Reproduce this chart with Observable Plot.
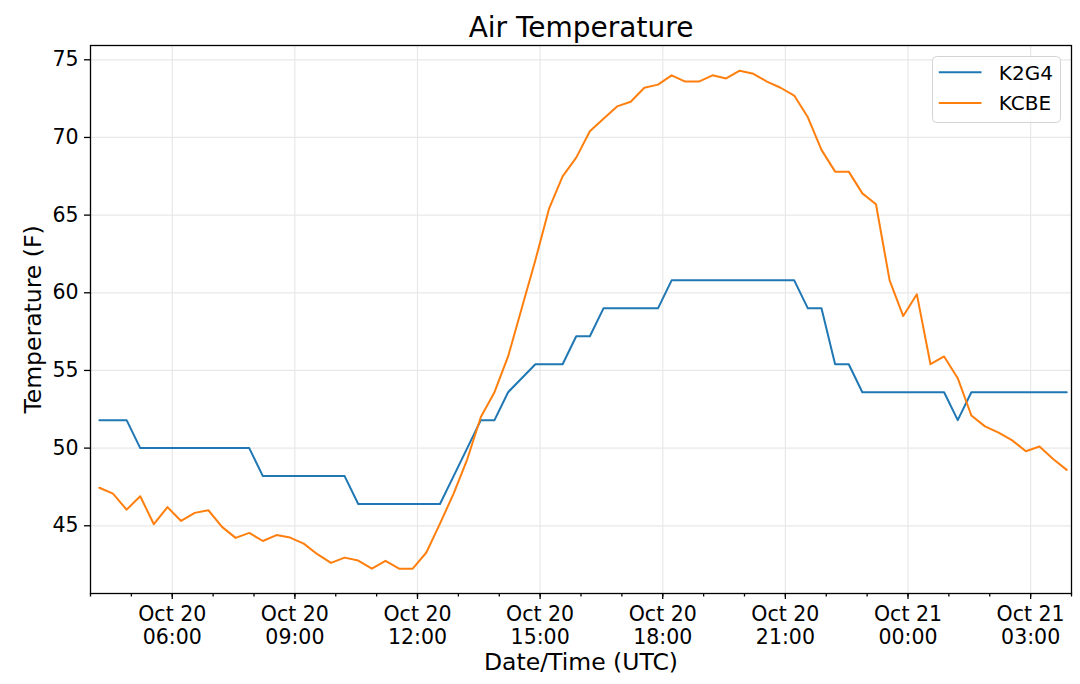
<!DOCTYPE html>
<html>
<head>
<meta charset="utf-8">
<script src="https://cdn.jsdelivr.net/npm/d3@7"></script>
<script src="https://cdn.jsdelivr.net/npm/@observablehq/plot@0.6"></script>
<style>
  body { margin: 0; background: #fff; font-family: "DejaVu Sans", sans-serif; }
  #wrap { position: relative; width: 1080px; height: 684px; }
  #legend { position: absolute; left: 931.5px; top: 56px; width: 129px; height: 67px; }
</style>
</head>
<body>
<div id="wrap"></div>
<script>
// ---- data ----
const stations = ["K2G4", "KCBE"];
const stationColors = ["#1f77b4", "#ff7f0e"];

// K2G4 air temperature (F), one reading every 20 minutes
const k2g4 = [
  51.8, 51.8, 51.8, 50.0, 50.0, 50.0, 50.0, 50.0, 50.0, 50.0, 50.0, 50.0,
  48.2, 48.2, 48.2, 48.2, 48.2, 48.2, 48.2, 46.4, 46.4, 46.4, 46.4, 46.4,
  46.4, 46.4, 48.2, 50.0, 51.8, 51.8, 53.6, 54.5, 55.4, 55.4, 55.4, 57.2,
  57.2, 59.0, 59.0, 59.0, 59.0, 59.0, 60.8, 60.8, 60.8, 60.8, 60.8, 60.8,
  60.8, 60.8, 60.8, 60.8, 59.0, 59.0, 55.4, 55.4, 53.6, 53.6, 53.6, 53.6,
  53.6, 53.6, 53.6, 51.8, 53.6, 53.6, 53.6, 53.6, 53.6, 53.6, 53.6, 53.6
];

// KCBE air temperature (F), one reading every 20 minutes
const kcbe = [
  47.45, 47.07, 46.04, 46.9, 45.1, 46.2, 45.31, 45.83, 46.0, 44.93, 44.22, 44.54,
  44.02, 44.4, 44.24, 43.85, 43.17, 42.61, 42.95, 42.76, 42.24, 42.74, 42.24, 42.24,
  43.28, 45.14, 47.07, 49.28, 52.0, 53.6, 55.9, 59.0, 62.1, 65.4, 67.5, 68.7,
  70.4, 71.2, 72.0, 72.3, 73.2, 73.4, 74.0, 73.6, 73.6, 74.0, 73.8, 74.3,
  74.1, 73.6, 73.2, 72.7, 71.3, 69.2, 67.8, 67.8, 66.4, 65.7, 60.8, 58.5,
  59.9, 55.4, 55.9, 54.5, 52.1, 51.4, 51.0, 50.5, 49.8, 50.1, 49.3, 48.6
];

const firstReading = Date.UTC(2019, 9, 20, 4, 13);   // Oct 20 04:13 UTC
const stepMinutes = 20;
const xStart = new Date(Date.UTC(2019, 9, 20, 4, 0));
const xEnd = new Date(Date.UTC(2019, 9, 21, 4, 0));
const yTicks = [45, 50, 55, 60, 65, 70, 75];
const yDomain = [40.64, 75.92];

const titleText = "Air Temperature";
const xLabel = "Date/Time (UTC)";
const yLabel = "Temperature (F)";

// ---- build table ----
const times = k2g4.map((_, i) => new Date(firstReading + i * stepMinutes * 60000));
const rows = [
  ...k2g4.map((v, i) => ({ time: times[i], temp: v, station: stations[0] })),
  ...kcbe.map((v, i) => ({ time: times[i], temp: v, station: stations[1] }))
];

const majorTicks = d3.utcHour.every(3).range(xStart, d3.utcMinute.offset(xEnd, 1));
const minorTicks = d3.utcHour.range(xStart, d3.utcMinute.offset(xEnd, 1));
const fmtDate = d3.utcFormat("%b %d");
const fmtTime = d3.utcFormat("%H:%M");
const tickFmt = d => fmtDate(d) + "\n" + fmtTime(d);

const chart = Plot.plot({
  width: 1080,
  height: 684,
  marginLeft: 90,
  marginRight: 9,
  marginTop: 45,
  marginBottom: 91,
  style: { fontFamily: "DejaVu Sans, sans-serif", fontSize: "20px", color: "#000", background: "#fff", overflow: "visible" },
  x: { type: "utc", domain: [xStart, xEnd] },
  y: { domain: yDomain },
  color: { domain: stations, range: stationColors },
  marks: [
    Plot.gridX(majorTicks, { stroke: "#e8e8e8", strokeOpacity: 1, strokeWidth: 1.2 }),
    Plot.gridY(yTicks, { stroke: "#e8e8e8", strokeOpacity: 1, strokeWidth: 1.2 }),
    Plot.line(rows, { x: "time", y: "temp", stroke: "station", strokeWidth: 2, curve: "linear" }),
    Plot.frame({ stroke: "#000", strokeWidth: 1.3 }),
    Plot.axisY(yTicks, { tickSize: 6, tickPadding: 6, fontSize: 20.5, label: null, strokeWidth: 1.3 }),
    Plot.axisX(minorTicks, { tickSize: 3.5, tickFormat: () => "", label: null, strokeWidth: 1.3 }),
    Plot.axisX(majorTicks, { tickSize: 6, tickPadding: 5, tickFormat: tickFmt, lineHeight: 1.14, fontSize: 20.5, label: null, strokeWidth: 1.3 }),
    Plot.text([yLabel], { text: d => d, frameAnchor: "left", textAnchor: "middle", lineAnchor: "middle", dx: -57, rotate: -90, fontSize: 23.5 }),
    Plot.text([xLabel], { text: d => d, frameAnchor: "bottom", textAnchor: "middle", lineAnchor: "middle", dy: 69, fontSize: 23.5 }),
    Plot.text([titleText], { text: d => d, frameAnchor: "top", textAnchor: "middle", lineAnchor: "middle", dy: -17.5, fontSize: 28 })
  ]
});

const wrap = document.getElementById("wrap");
wrap.appendChild(chart);

// ---- legend (upper right, matplotlib style) ----
const legend = document.createElement("div");
legend.id = "legend";
const ns = "http://www.w3.org/2000/svg";
const lsvg = document.createElementNS(ns, "svg");
lsvg.setAttribute("width", 129);
lsvg.setAttribute("height", 67);
lsvg.style.fontFamily = "DejaVu Sans, sans-serif";
const box = document.createElementNS(ns, "rect");
box.setAttribute("x", 0.5); box.setAttribute("y", 0.5);
box.setAttribute("width", 128); box.setAttribute("height", 66);
box.setAttribute("rx", 4);
box.setAttribute("fill", "rgba(255,255,255,0.8)");
box.setAttribute("stroke", "#d4d4d4");
lsvg.appendChild(box);
stations.forEach((s, i) => {
  const ly = 16.3 + i * 30.7;
  const ln = document.createElementNS(ns, "line");
  ln.setAttribute("x1", 6.8); ln.setAttribute("x2", 49.5);
  ln.setAttribute("y1", ly); ln.setAttribute("y2", ly);
  ln.setAttribute("stroke", stationColors[i]);
  ln.setAttribute("stroke-width", 2);
  lsvg.appendChild(ln);
  const tx = document.createElementNS(ns, "text");
  tx.setAttribute("x", 66.8);
  tx.setAttribute("y", ly + 7.3);
  tx.setAttribute("font-size", 20);
  tx.setAttribute("fill", "#000");
  tx.textContent = s;
  lsvg.appendChild(tx);
});
legend.appendChild(lsvg);
wrap.appendChild(legend);
</script>
</body>
</html>
